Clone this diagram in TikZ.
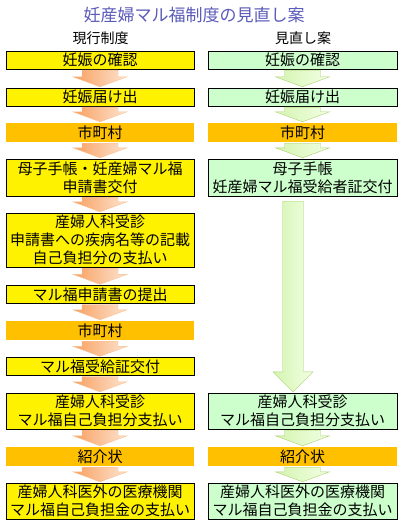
\documentclass[tikz,border=0pt]{standalone}
\usepackage{fontspec}
\setmainfont{Noto Sans CJK JP}
\usepackage{xcolor}
\usepackage{tikz}
\usetikzlibrary{calc}

\definecolor{titleblue}{RGB}{90,90,185}
\definecolor{barorange}{RGB}{255,192,0}
\definecolor{boxgreen}{RGB}{204,255,204}
\definecolor{arrowdark}{RGB}{248,160,96}
\definecolor{arrowlight}{RGB}{253,228,208}
\definecolor{arrowedge}{RGB}{250,190,140}
\definecolor{leafdark}{RGB}{212,244,176}
\definecolor{leaflight}{RGB}{242,255,228}
\definecolor{leafedge}{RGB}{170,210,110}

\tikzset{
  oldbox/.style={draw=black, fill=yellow, minimum width=188pt, inner sep=1pt,
    align=center, font=\fontsize{15}{18}\selectfont},
  newbox/.style={oldbox, fill=boxgreen, minimum width=189pt},
  citybar/.style={oldbox, draw=none, fill=barorange},
  orangearrow/.style={draw=arrowedge, left color=arrowdark, right color=arrowlight},
  greenarrow/.style={draw=leafedge, left color=leafdark, right color=leaflight}
}

% block arrow: style, from, to, half shaft, half head, head length
\newcommand{\blockarrow}[6]{%
  \path[#1] let \p1=(#2), \p2=(#3) in
    (\x1-#4pt,\y1-1pt) -- (\x1+#4pt,\y1-1pt) -- (\x1+#4pt,\y2+#6pt)
    -- (\x1+#5pt,\y2+#6pt) -- (\x1,\y2+1pt) -- (\x1-#5pt,\y2+#6pt)
    -- (\x1-#4pt,\y2+#6pt) -- cycle;
}

\begin{document}
\begin{tikzpicture}[x=1pt, y=-1pt]
  \useasboundingbox (0,0) rectangle (403,524);

  % Title and column heads
  \node[titleblue, font=\fontsize{17}{20}\selectfont] (title) at (194,15) {妊産婦マル福制度の見直し案};
  \node[font=\fontsize{14}{16}\selectfont] (oldhead) at (100.5,38) {現行制度};
  \node[font=\fontsize{14}{16}\selectfont] (newhead) at (303,38) {見直し案};

  % Current system
  \node[oldbox, minimum height=18pt] (old1) at (100,60) {妊娠の確認};
  \node[oldbox, minimum height=18pt] (old2) at (100,97) {妊娠届け出};
  \node[citybar, minimum height=19pt] (old3) at (100,132.5) {市町村};
  \node[oldbox, minimum height=37pt] (old4) at (100,177.5) {母子手帳・妊産婦マル福\\申請書交付};
  \node[oldbox, minimum height=54pt] (old5) at (100,240) {産婦人科受診\\申請書への疾病名等の記載\\自己負担分の支払い};
  \node[oldbox, minimum height=18pt] (old6) at (100,294.5) {マル福申請書の提出};
  \node[citybar, minimum height=19pt] (old7) at (100,330.5) {市町村};
  \node[oldbox, minimum height=18pt] (old8) at (100,366.5) {マル福受給証交付};
  \node[oldbox, minimum height=36pt] (old9) at (100,411) {産婦人科受診\\マル福自己負担分支払い};
  \node[citybar, minimum height=19pt] (old10) at (100,456.5) {紹介状};
  \node[oldbox, minimum height=36pt] (old11) at (100,501) {産婦人科医外の医療機関\\マル福自己負担金の支払い};

  % Revised plan
  \node[newbox, minimum height=18pt] (new1) at (302.5,60) {妊娠の確認};
  \node[newbox, minimum height=18pt] (new2) at (302.5,97) {妊娠届け出};
  \node[citybar, minimum width=189pt, minimum height=19pt] (new3) at (302.5,132.5) {市町村};
  \node[newbox, minimum height=37pt] (new4) at (302.5,177.5) {母子手帳\\妊産婦マル福受給者証交付};
  \node[newbox, minimum height=36pt] (new5) at (302.5,411) {産婦人科受診\\マル福自己負担分支払い};
  \node[citybar, minimum width=189pt, minimum height=19pt] (new6) at (302.5,456.5) {紹介状};
  \node[newbox, minimum height=36pt] (new7) at (302.5,501) {産婦人科医外の医療機関\\マル福自己負担金の支払い};

  % Arrows, current system
  \foreach \i [evaluate=\i as \j using int(\i+1)] in {1,...,10}
    \blockarrow{orangearrow}{old\i.south}{old\j.north}{18}{27}{11};

  % Arrows, revised plan
  \blockarrow{greenarrow}{new1.south}{new2.north}{18}{27}{11}
  \blockarrow{greenarrow}{new2.south}{new3.north}{18}{27}{11}
  \blockarrow{greenarrow}{new3.south}{new4.north}{18}{27}{11}
  \coordinate (longtop) at ($(new4.south)+(-9.5,4)$);
  \blockarrow{greenarrow}{longtop}{new5.north}{10.5}{20}{21}
  \blockarrow{greenarrow}{new5.south}{new6.north}{18}{27}{11}
  \blockarrow{greenarrow}{new6.south}{new7.north}{18}{27}{11}
\end{tikzpicture}
\end{document}
